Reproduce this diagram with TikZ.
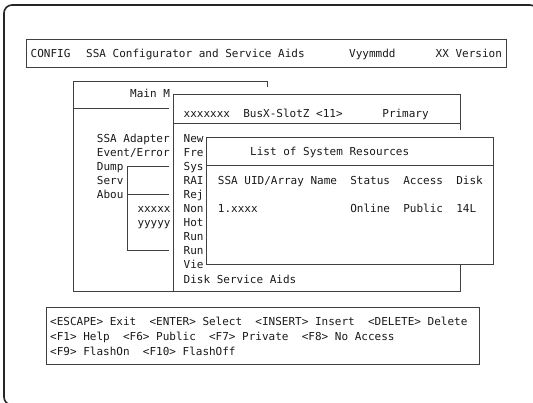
\documentclass[tikz,border=0pt]{standalone}
\usepackage{fontspec}
\setmonofont{DejaVu Sans Mono}
\newcommand{\scr}{\ttfamily\fontsize{11}{13}\selectfont}
\tikzset{
  txt/.style={anchor=base west, inner sep=0pt, font=\scr, text=black!90},
  boxline/.style={draw=black!75, line width=0.7pt},
  frameline/.style={draw=black!85, line width=1.6pt, rounded corners=8pt}
}
\begin{document}
\begin{tikzpicture}[x=1pt,y=-1pt]
\useasboundingbox (0,0) rectangle (533,402);
% outer frame (partly outside)
\begin{scope}
\clip (0,0) rectangle (533,402);
\draw[frameline] (4,5) rectangle (538,405);
\end{scope}
% title bar
\draw[boxline] (26,39) rectangle (506,67);
\node[txt] (cfg) at (30.5,57.5) {CONFIG};
\node[txt] (ssa) at (86,57.5) {SSA Configurator and Service Aids};
\node[txt] (ver) at (349,57.5) {Vyymmdd};
\node[txt] (xx) at (435.5,57.5) {XX Version};
% main menu window
\draw[boxline] (267,87) -- (267,81) -- (73,81) -- (73,291) -- (173,291);
\draw[boxline] (73,108) -- (169,108);
\node[txt] (mm) at (130,97.3) {Main M};
\foreach \t [count=\i from 0] in {SSA Adapter,Event/Error,Dump,Serv,Abou}
  \node[txt] (m\i) at (96.7,142.3+14.07*\i) {\t};
% small sub window
\draw[boxline] (169,166) -- (127,166) -- (127,250) -- (169,250);
\draw[boxline] (127,194.3) -- (169,194.3);
\node[txt] (sx) at (137.3,212.4) {xxxxx};
\node[txt] (sy) at (137.3,226.5) {yyyyy};
% bus window
\draw[boxline] (460,130) -- (460,94) -- (173,94) -- (173,291) -- (460,291) -- (460,265);
\draw[boxline] (173,123) -- (460,123);
\node[txt] (bus) at (183.5,117) {xxxxxxx~~BusX-SlotZ <11>~~~~~~Primary};
\foreach \t [count=\i from 0] in {New,Fre,Sys,RAI,Rej,Non,Hot,Run,Run,Vie,Disk Service Aids}
  \node[txt] (b\i) at (183.5,142.3+14.07*\i) {\t};
% list window
\draw[boxline] (206,137.7) rectangle (493,264);
\draw[boxline] (206,165.7) -- (493,165.7);
\node[txt] (lt) at (250,155.7) {List of System Resources};
\node[txt] (lh) at (217.7,184) {SSA UID/Array Name~~Status~~Access~~Disk};
\node[txt] (lr) at (217.7,212.2) {1.xxxx~~~~~~~~~~~~~~Online~~Public~~14L};
% footer
\draw[boxline] (46,307) rectangle (479,364);
\node[txt] (f1) at (50,325.7) {<ESCAPE> Exit~~<ENTER> Select~~<INSERT> Insert~~<DELETE> Delete};
\node[txt] (f2) at (50,340.4) {<F1> Help~~<F6> Public~~<F7> Private~~<F8> No Access};
\node[txt] (f3) at (50,355.1) {<F9> FlashOn~~<F10> FlashOff};
\end{tikzpicture}
\end{document}
